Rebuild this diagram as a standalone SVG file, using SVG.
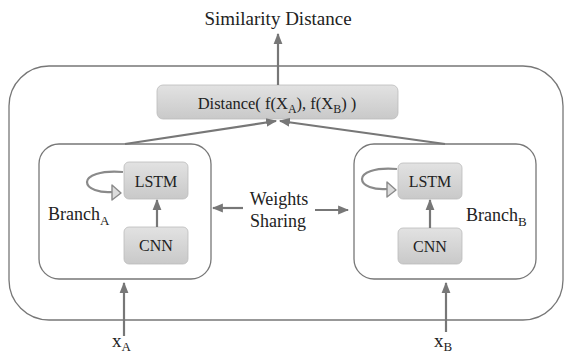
<svg xmlns="http://www.w3.org/2000/svg" width="565" height="354" viewBox="0 0 565 354">
<defs>
<linearGradient id="g" x1="0" y1="0" x2="0" y2="1">
<stop offset="0" stop-color="#e2e2e2"/>
<stop offset="1" stop-color="#c9c9c9"/>
</linearGradient>
<marker id="ah" viewBox="0 0 10 10" refX="9" refY="5" markerWidth="5" markerHeight="5" orient="auto" markerUnits="strokeWidth">
<path d="M0,1 L10,5 L0,9 z" fill="#777"/>
</marker>
</defs>
<style>
.frame{fill:#fff;stroke:#777;stroke-width:1.3}
.node{fill:url(#g);stroke:#bbb;stroke-width:0.8}
.t{fill:#222;font-family:'Liberation Serif','DejaVu Serif',serif}
.ln{stroke:#777;stroke-width:2.2;fill:none}
.loop{stroke:#8a8a8a;stroke-width:2.2;fill:none}
.head{fill:#dcdcdc;stroke:#8a8a8a;stroke-width:1.4;stroke-linejoin:round}
</style>
<rect id="outer" class="frame" x="9" y="66" width="554" height="254" rx="40" ry="40"/>
<g id="branchA">
<rect class="frame" x="39" y="144" width="172" height="135" rx="20" ry="20"/>
<text class="t" x="48" y="220" font-size="18">Branch<tspan font-size="13" dy="5">A</tspan></text>
</g>
<g id="branchB">
<rect class="frame" x="354" y="144" width="182" height="135" rx="20" ry="20"/>
<text class="t" x="466" y="221" font-size="18">Branch<tspan font-size="13" dy="5">B</tspan></text>
</g>
<g id="distance">
<rect class="node" x="157" y="85" width="241" height="34" rx="6" ry="6"/>
<text class="t" x="277" y="109" font-size="16.5" text-anchor="middle">Distance( f(X<tspan font-size="12" dy="4">A</tspan><tspan dy="-4">), f(X</tspan><tspan font-size="12" dy="4">B</tspan><tspan dy="-4">) )</tspan></text>
</g>
<g id="lstmA">
<rect class="node" x="124" y="162" width="64" height="37" rx="5" ry="5"/>
<text class="t" x="156" y="187" font-size="16" text-anchor="middle">LSTM</text>
</g>
<g id="cnnA">
<rect class="node" x="124" y="227" width="64" height="37" rx="5" ry="5"/>
<text class="t" x="156" y="251" font-size="16" text-anchor="middle">CNN</text>
</g>
<g id="lstmB">
<rect class="node" x="398" y="163" width="64" height="36" rx="5" ry="5"/>
<text class="t" x="430" y="187" font-size="16" text-anchor="middle">LSTM</text>
</g>
<g id="cnnB">
<rect class="node" x="398" y="228" width="64" height="36" rx="5" ry="5"/>
<text class="t" x="430" y="252" font-size="16" text-anchor="middle">CNN</text>
</g>
<g id="similarity">
<text class="t" x="278" y="25" font-size="19" text-anchor="middle">Similarity Distance</text>
</g>
<g id="weights">
<text class="t" x="279" y="205" font-size="18" text-anchor="middle">Weights</text>
<text class="t" x="278" y="227" font-size="18" text-anchor="middle">Sharing</text>
</g>
<g id="xA"><text class="t" x="112" y="347" font-size="19">x<tspan font-size="13" dy="4">A</tspan></text></g>
<g id="xB"><text class="t" x="434" y="347" font-size="19">x<tspan font-size="13" dy="4">B</tspan></text></g>
<g id="connectors">
<line class="ln" x1="278" y1="85" x2="278" y2="34" marker-end="url(#ah)"/>
<line class="ln" x1="125" y1="144" x2="276" y2="121" marker-end="url(#ah)"/>
<line class="ln" x1="445" y1="144" x2="280" y2="121" marker-end="url(#ah)"/>
<line class="ln" x1="157" y1="227" x2="157" y2="200" marker-end="url(#ah)"/>
<line class="ln" x1="430" y1="228" x2="430" y2="200" marker-end="url(#ah)"/>
<line class="ln" x1="124" y1="336" x2="124" y2="283" marker-end="url(#ah)"/>
<line class="ln" x1="446" y1="332" x2="446" y2="283" marker-end="url(#ah)"/>
<line class="ln" x1="243" y1="208" x2="213" y2="208" marker-end="url(#ah)"/>
<line class="ln" x1="315" y1="210" x2="348" y2="210" marker-end="url(#ah)"/>
<path class="loop" d="M123,172 C100,170 87,176 87,182 C87,189 100,193 112,192"/>
<path class="head" d="M112,185 L121,193 L112,200 z"/>
<path class="loop" d="M397,169 C374,167 362,173 362,179 C362,186 374,190 387,189"/>
<path class="head" d="M387,182 L396,190 L387,197 z"/>
</g>
</svg>
